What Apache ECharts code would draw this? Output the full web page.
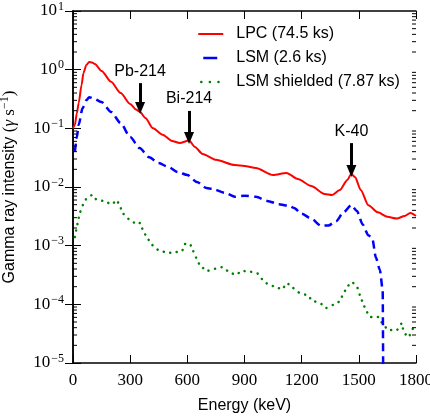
<!DOCTYPE html>
<html><head><meta charset="utf-8">
<script src="https://cdn.jsdelivr.net/npm/echarts@6/dist/echarts.min.js"></script>
<style>html,body{margin:0;padding:0;background:#fff}#c{width:430px;height:416px}</style>
</head><body><div id="c"></div><script>
// ---- data ----
const energyLPC = [0,10,20,30,45,55,70,85,100,115,150,200,250,300,330,352,380,420,470,520,560,609,640,680,750,850,900,960,1050,1120,1180,1250,1320,1360,1400,1440,1460,1480,1510,1550,1600,1650,1700,1740,1770,1800];
const lpc = [0.1,0.114,0.18,0.27,0.55,0.88,1.2,1.35,1.33,1.25,0.95,0.62,0.40,0.26,0.21,0.19,0.15,0.10,0.078,0.061,0.056,0.062,0.048,0.0366,0.029,0.0237,0.0229,0.021,0.016,0.0174,0.0137,0.0104,0.0076,0.0073,0.0089,0.0132,0.0167,0.0148,0.0089,0.0049,0.0037,0.0031,0.0029,0.0032,0.0036,0.0032];

const energyLSM = [10,20,30,50,70,85,110,150,200,250,300,350,400,450,500,550,600,650,700,730,800,850,900,960,1020,1080,1130,1160,1200,1250,1300,1340,1380,1420,1460,1490,1520,1550,1570,1590,1610,1625,1632];
const lsm = [0.04,0.07,0.115,0.22,0.30,0.34,0.32,0.28,0.19,0.123,0.071,0.046,0.032,0.0256,0.022,0.018,0.016,0.0122,0.0096,0.0093,0.0079,0.0068,0.0071,0.0068,0.0058,0.0051,0.0048,0.0044,0.0035,0.0029,0.0022,0.0022,0.0026,0.0037,0.0049,0.0039,0.0023,0.0015,0.00135,0.00062,0.00039,0.00018,1e-9];

const energyShield = [10,20,27,37,52,73,100,126,157,205,230,247,262,299,336,352,367,388,415,446,493,525,572,588,614,630,651,667,703,735,782,814,850,892,929,966,992,1024,1060,1097,1123,1154,1191,1228,1260,1296,1328,1364,1396,1417,1438,1464,1490,1506,1522,1538,1559,1601,1627,1653,1700,1727,1732,1753,1763,1784,1795];
const shield = [0.0014,0.0020,0.00274,0.00375,0.00493,0.0065,0.0073,0.0060,0.0058,0.0051,0.0060,0.0046,0.0035,0.00275,0.0023,0.00244,0.00186,0.00136,0.00103,0.00085,0.00076,0.00076,0.00081,0.00107,0.00107,0.00081,0.00059,0.00045,0.00037,0.00040,0.00043,0.00037,0.00032,0.00037,0.00036,0.00034,0.00027,0.00022,0.00020,0.00018,0.00023,0.00019,0.000156,0.000144,0.000114,0.000105,0.0000867,0.0000975,0.00011,0.000144,0.00020,0.00024,0.00020,0.000144,0.000105,0.000077,0.000061,0.000061,0.000046,0.0000366,0.0000366,0.000048,0.0000384,0.0000278,0.0000285,0.0000384,0.0000394];

const seriesNames = ['LPC (74.5 ks)', 'LSM (2.6 ks)', 'LSM shielded (7.87 ks)'];
const xTickValues = [0,300,600,900,1200,1500,1800];
const yDecades = [-5,-4,-3,-2,-1,0,1];

const annotLabels = ['Pb-214','Bi-214','K-40'];
const annotEnergy = [352, 609, 1461];
const annotFrom = [0.59, 0.198, 0.056];
const annotTo = [0.222, 0.0684, 0.0187];

// ---- build ----
const pairs = (xs, ys) => xs.map((x, i) => [x, ys[i]]);
const minorVals = [];
yDecades.slice(0, -1).forEach(d => { for (let m = 2; m <= 9; m++) minorVals.push(m * Math.pow(10, d)); });

const SERIF = "'Liberation Serif', 'Times New Roman', serif";
const SANS = "'Liberation Sans', Arial, sans-serif";

const yLabelFmt = v => {
  const e = Math.round(Math.log10(v));
  return '{b|10}{s|' + (e < 0 ? '\u2212' + (-e) : e) + '}';
};
const yRich = {
  b: { fontFamily: SERIF, fontSize: 17, color: '#000' },
  s: { fontFamily: SERIF, fontSize: 12, color: '#000', padding: [0, 0, 9, 1] }
};

const chart = echarts.init(document.getElementById('c'), null, { renderer: 'canvas' });
const xMin = xTickValues[0], xMax = xTickValues[xTickValues.length - 1];
const yMin = Math.pow(10, yDecades[0]), yMax = Math.pow(10, yDecades[yDecades.length - 1]);

const legendStyles = [
  { lineStyle: { color: '#ff0000', width: 2, type: 'solid' } },
  { lineStyle: { color: '#0000ff', width: 2.5, type: [14, 40], dashOffset: -5 } },
  { lineStyle: { color: '#008000', width: 2.5, type: [0.1, 8.5], cap: 'round', dashOffset: -3 } }
];

chart.setOption({
  animation: false,
  backgroundColor: '#fff',
  grid: { left: 73, right: 14, top: 11, bottom: 53, containLabel: false, outerBoundsMode: 'none' },
  legend: {
    data: seriesNames.map((n, i) => Object.assign({ name: n, itemStyle: { opacity: 0 } }, legendStyles[i])),
    orient: 'vertical',
    left: 192, top: 21,
    itemWidth: 25, itemHeight: 16, itemGap: 8,
    textStyle: { fontFamily: SANS, fontSize: 16, color: '#000', padding: [0, 0, 0, 8] }
  },
  xAxis: [{
    type: 'value', min: xMin, max: xMax, interval: 300,
    position: 'bottom',
    name: 'Energy (keV)', nameLocation: 'middle', nameGap: 35,
    nameTextStyle: { fontFamily: SANS, fontSize: 16, color: '#000' },
    axisLine: { show: true, lineStyle: { color: '#000', width: 1.5 } },
    axisTick: { show: true, inside: true, length: 8, lineStyle: { color: '#000', width: 1 } },
    axisLabel: { fontFamily: SERIF, fontSize: 17, color: '#000', margin: 9, showMaxLabel: true, showMinLabel: true, formatter: v => String(v) },
    splitLine: { show: false }
  }, {
    type: 'value', min: xMin, max: xMax, interval: 300,
    position: 'top',
    axisLine: { show: true, lineStyle: { color: '#000', width: 1.5 } },
    axisTick: { show: true, inside: true, length: 8, lineStyle: { color: '#000', width: 1 } },
    axisLabel: { show: false },
    splitLine: { show: false }
  }],
  yAxis: [{
    type: 'log', logBase: 10, min: yMin, max: yMax, splitNumber: 6,
    position: 'left',
    name: '{a|Gamma ray intensity }{m|(}{g|\u03B3}{m| s}{s|\u22121}{m|)}',
    nameLocation: 'middle', nameGap: 53, nameRotate: 90,
    nameTextStyle: {
      rich: {
        a: { fontFamily: SANS, fontSize: 16, color: '#000' },
        m: { fontFamily: SERIF, fontSize: 17, color: '#000' },
        g: { fontFamily: SERIF, fontSize: 17, color: '#000', fontStyle: 'italic' },
        s: { fontFamily: SERIF, fontSize: 12, color: '#000', padding: [0, 0, 9, 0] }
      }
    },
    axisLine: { show: true, lineStyle: { color: '#000', width: 1.5 } },
    axisTick: { show: true, inside: true, length: 8, lineStyle: { color: '#000', width: 1 } },
    axisLabel: { formatter: yLabelFmt, rich: yRich, margin: 9 },
    splitLine: { show: false }
  }, {
    type: 'log', logBase: 10, min: yMin, max: yMax, splitNumber: 6,
    position: 'right',
    axisLine: { show: true, lineStyle: { color: '#000', width: 1.5 } },
    axisTick: { show: true, inside: true, length: 8, lineStyle: { color: '#000', width: 1 } },
    axisLabel: { show: false },
    splitLine: { show: false }
  }],
  series: [
    {
      name: seriesNames[0], type: 'line', data: pairs(energyLPC, lpc),
      symbol: 'none', smooth: 0.25, smoothMonotone: 'x', z: 4,
      lineStyle: { color: '#ff0000', width: 2 }, itemStyle: { color: '#ff0000' },
      markLine: {
        silent: true, symbol: ['none', 'triangle'], symbolSize: [10, 12],
        lineStyle: { color: '#000', width: 3, type: 'solid' },
        label: { show: true, position: 'start', distance: 4, formatter: p => p.name, fontFamily: SANS, fontSize: 16, color: '#000' },
        data: annotLabels.map((l, i) => [
          { name: l, coord: [annotEnergy[i], annotFrom[i]] },
          { coord: [annotEnergy[i], annotTo[i]] }
        ])
      }
    },
    {
      name: seriesNames[1], type: 'line', data: pairs(energyLSM, lsm),
      symbol: 'none', smooth: 0.25, smoothMonotone: 'x', z: 3,
      lineStyle: { color: '#0000ff', width: 2.5, type: [8, 5] }, itemStyle: { color: '#0000ff' }
    },
    {
      name: seriesNames[2], type: 'line', data: pairs(energyShield, shield),
      symbol: 'none', smooth: 0.2, smoothMonotone: 'x', z: 2,
      lineStyle: { color: '#008000', width: 2.5, type: [0.1, 6.5], cap: 'round' }, itemStyle: { color: '#008000' }
    },
    {
      type: 'custom', silent: true, clip: false, z: 6,
      data: minorVals.map(v => [xMin, v]),
      renderItem: (params, api) => {
        const y = api.coord([xMin, api.value(1)])[1];
        const cs = params.coordSys;
        return { type: 'group', children: [
          { type: 'line', shape: { x1: cs.x, y1: y, x2: cs.x + 4, y2: y }, style: { stroke: '#000', lineWidth: 1 } },
          { type: 'line', shape: { x1: cs.x + cs.width - 4, y1: y, x2: cs.x + cs.width, y2: y }, style: { stroke: '#000', lineWidth: 1 } }
        ]};
      }
    }
  ]
});
</script></body></html>
